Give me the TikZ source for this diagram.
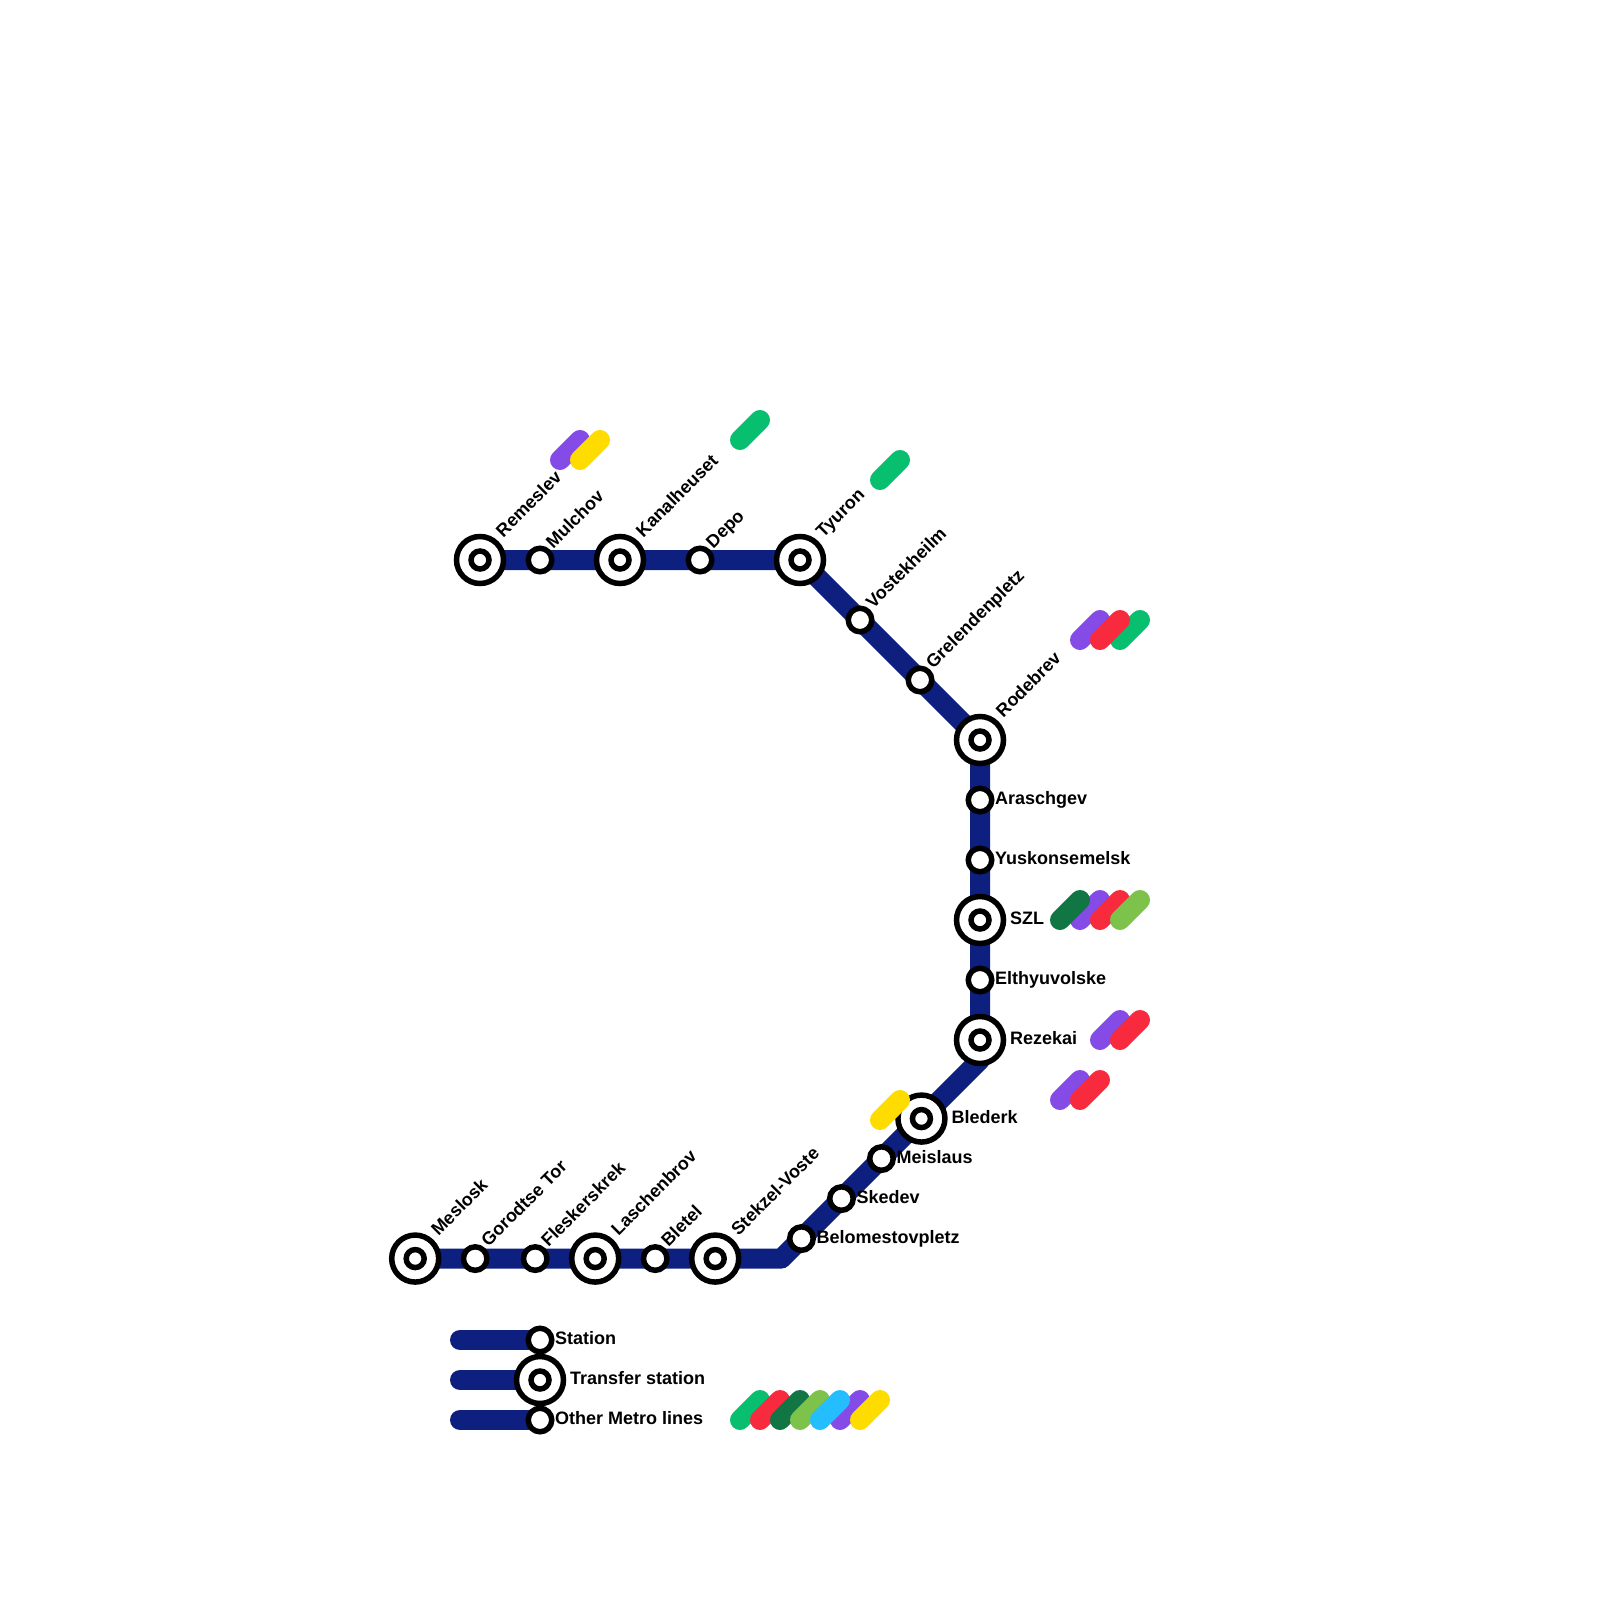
\documentclass[tikz,border=0pt]{standalone}
\usepackage{fontspec}
\setmainfont{Liberation Sans}
\usetikzlibrary{positioning,backgrounds}
\definecolor{navy}{HTML}{0E207F}
\definecolor{lnGreen}{HTML}{07BF6F}
\definecolor{lnRed}{HTML}{F72A3E}
\definecolor{lnDark}{HTML}{127544}
\definecolor{lnLime}{HTML}{7DC24A}
\definecolor{lnCyan}{HTML}{24BEFF}
\definecolor{lnPurple}{HTML}{844BE6}
\definecolor{lnYellow}{HTML}{FFDC00}

\begin{document}
\begin{tikzpicture}[x=1pt, y=-1pt, on grid,
  metro/.style={line width=20pt, draw=navy, line cap=round, line join=round},
  pill/.style={line width=20pt, line cap=round},
  stn/.style={circle, draw=black, fill=white, line width=5.5pt, inner sep=0pt, minimum size=23.5pt},
  xfer/.style={circle, draw=black, fill=white, line width=5.5pt, inner sep=0pt, minimum size=47pt,
               path picture={\draw[line width=5.5pt] (path picture bounding box.center) circle (9pt);}},
  lbl/.style={font=\fontsize{18}{18}\selectfont\bfseries, inner sep=0pt, text height=13pt, text depth=4pt, anchor=west},
  rlbl/.style={lbl, rotate=45}]
\useasboundingbox (0,0) rectangle (1600,1600);
\node[xfer] (rem) at (480,560) {};
\node[stn, right=60pt of rem] (mul) {};
\node[xfer, right=80pt of mul] (kan) {};
\node[stn, right=80pt of kan] (dep) {};
\node[xfer, right=100pt of dep] (tyu) {};
\node[stn, below right=60pt and 60pt of tyu] (vos) {};
\node[stn, below right=60pt and 60pt of vos] (gre) {};
\node[xfer, below right=60pt and 60pt of gre] (rod) {};
\node[stn, below=60pt of rod] (ara) {};
\node[stn, below=60pt of ara] (yus) {};
\node[xfer, below=60pt of yus] (szl) {};
\node[stn, below=60pt of szl] (elt) {};
\node[xfer, below=60pt of elt] (rez) {};
\coordinate[below=20pt of rez] (bend);
\node[xfer, below left=40pt and 40pt of bend] (bld) {};
\node[stn, below left=40pt and 40pt of bld] (mei) {};
\node[stn, below left=40pt and 40pt of mei] (ske) {};
\node[stn, below left=40pt and 40pt of ske] (bel) {};
\coordinate[below left=20pt and 20pt of bel] (corner);
\node[xfer, left=40pt of corner] (ste) {};
\node[stn, left=60pt of ste] (blt) {};
\node[xfer, left=60pt of blt] (las) {};
\node[stn, left=60pt of las] (fle) {};
\node[stn, left=60pt of fle] (gor) {};
\node[xfer, left=60pt of gor] (mes) {};
\node[stn] (lgs) at (540,1340) {};
\node[xfer, below=40pt of lgs] (lgx) {};
\node[stn, below=40pt of lgx] (lgo) {};
\coordinate[left=80pt of lgs] (lgsend);
\coordinate[left=80pt of lgx] (lgxend);
\coordinate[left=80pt of lgo] (lgoend);
\begin{pgfonlayer}{background}
\draw[metro] (rem.center) -- (mul.center) -- (kan.center) -- (dep.center) -- (tyu.center) -- (vos.center)
  -- (gre.center) -- (rod.center) -- (ara.center) -- (yus.center) -- (szl.center) -- (elt.center)
  -- (rez.center) -- (bend) -- (bld.center) -- (mei.center) -- (ske.center) -- (bel.center) -- (corner)
  -- (ste.center) -- (blt.center) -- (las.center) -- (fle.center) -- (gor.center) -- (mes.center);
\draw[metro] (lgsend) -- (lgs.center); \draw[metro] (lgxend) -- (lgx.center); \draw[metro] (lgoend) -- (lgo.center);
\end{pgfonlayer}
\node[rlbl] (remt) at ([shift={(20,-25)}]rem) {Remeslev};
\node[rlbl] (mult) at ([shift={(10,-14)}]mul) {Mulchov};
\node[rlbl] (kant) at ([shift={(20,-25)}]kan) {Kanalheuset};
\node[rlbl] (dept) at ([shift={(10,-14)}]dep) {Depo};
\node[rlbl] (tyut) at ([shift={(20,-25)}]tyu) {Tyuron};
\node[rlbl] (vost) at ([shift={(10,-14)}]vos) {Vostekheilm};
\node[rlbl] (gret) at ([shift={(10,-14)}]gre) {Grelendenpletz};
\node[rlbl] (rodt) at ([shift={(20,-25)}]rod) {Rodebrev};
\node[lbl] (arat) at ([shift={(15,0)}]ara) {Araschgev};
\node[lbl] (yust) at ([shift={(15,0)}]yus) {Yuskonsemelsk};
\node[lbl] (szlt) at ([shift={(30,0)}]szl) {SZL};
\node[lbl] (eltt) at ([shift={(15,0)}]elt) {Elthyuvolske};
\node[lbl] (rezt) at ([shift={(30,0)}]rez) {Rezekai};
\node[lbl] (bldt) at ([shift={(30,0)}]bld) {Blederk};
\node[lbl] (meit) at ([shift={(15,0)}]mei) {Meislaus};
\node[lbl] (sket) at ([shift={(15,0)}]ske) {Skedev};
\node[lbl] (belt) at ([shift={(15,0)}]bel) {Belomestovpletz};
\node[rlbl] (stet) at ([shift={(20,-25)}]ste) {Stekzel-Voste};
\node[rlbl] (bltt) at ([shift={(10,-14)}]blt) {Bletel};
\node[rlbl] (last) at ([shift={(20,-25)}]las) {Laschenbrov};
\node[rlbl] (flet) at ([shift={(10,-14)}]fle) {Fleskerskrek};
\node[rlbl] (gort) at ([shift={(10,-14)}]gor) {Gorodtse Tor};
\node[rlbl] (mest) at ([shift={(20,-25)}]mes) {Meslosk};
\node[lbl] (lgst) at ([shift={(15,0)}]lgs) {Station};
\node[lbl] (lgxt) at ([shift={(30,0)}]lgx) {Transfer station};
\node[lbl] (lgot) at ([shift={(15,0)}]lgo) {Other Metro lines};
\draw[pill, lnPurple] (560,460) -- ++(20,-20); \draw[pill, lnYellow] (580,460) -- ++(20,-20);
\draw[pill, lnGreen] (740,440) -- ++(20,-20);
\draw[pill, lnGreen] (880,480) -- ++(20,-20);
\draw[pill, lnPurple] (1080,640) -- ++(20,-20); \draw[pill, lnGreen] (1120,640) -- ++(20,-20); \draw[pill, lnRed] (1100,640) -- ++(20,-20);
\draw[pill, lnPurple] (1080,920) -- ++(20,-20); \draw[pill, lnRed] (1100,920) -- ++(20,-20);
\draw[pill, lnDark] (1060,920) -- ++(20,-20); \draw[pill, lnLime] (1120,920) -- ++(20,-20);
\draw[pill, lnPurple] (1100,1040) -- ++(20,-20); \draw[pill, lnRed] (1120,1040) -- ++(20,-20);
\draw[pill, lnPurple] (1060,1100) -- ++(20,-20); \draw[pill, lnRed] (1080,1100) -- ++(20,-20);
\draw[pill, lnYellow] (880,1120) -- ++(20,-20);
\draw[pill, lnGreen] (740,1420) -- ++(20,-20); \draw[pill, lnRed] (760,1420) -- ++(20,-20);
\draw[pill, lnDark] (780,1420) -- ++(20,-20); \draw[pill, lnLime] (800,1420) -- ++(20,-20);
\draw[pill, lnPurple] (840,1420) -- ++(20,-20); \draw[pill, lnCyan] (820,1420) -- ++(20,-20);
\draw[pill, lnYellow] (860,1420) -- ++(20,-20);
\end{tikzpicture}
\end{document}
